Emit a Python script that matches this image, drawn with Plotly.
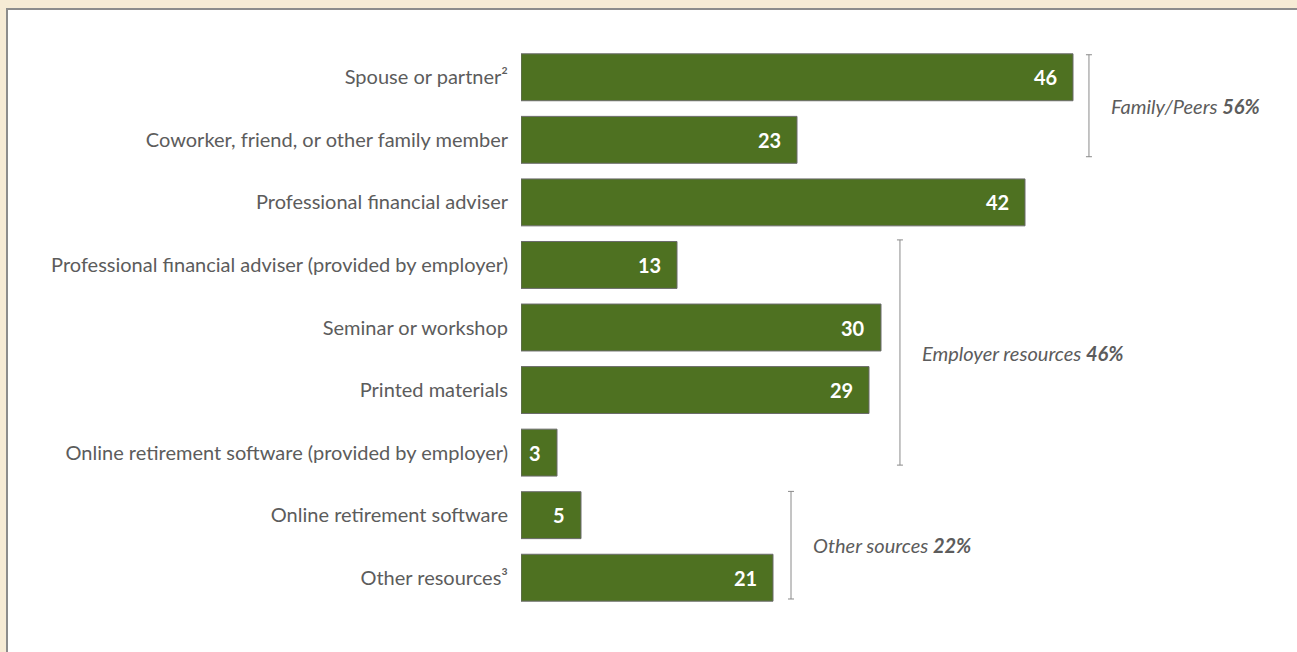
import plotly.graph_objects as go

# Sources consulted for retirement decisions (percent of respondents)
categories = [
    "Spouse or partner²",
    "Coworker, friend, or other family member",
    "Professional financial adviser",
    "Professional financial adviser (provided by employer)",
    "Seminar or workshop",
    "Printed materials",
    "Online retirement software (provided by employer)",
    "Online retirement software",
    "Other resources³",
]
values = [46, 23, 42, 13, 30, 29, 3, 5, 21]

# Group brackets: label, share, first/last row spanned, x position
group_names = ["Family/Peers", "Employer resources", "Other sources"]
group_shares = [56, 46, 22]
group_rows = [(-0.36, 1.27), (2.6, 6.2), (6.62, 8.34)]
group_x = [47.33, 31.58, 22.5]

BAR = "#4e7121"
TEXT = "#5c5c5c"
LINE = "#8a8a8a"
FONT = "Lato"

fig = go.Figure()
fig.add_trace(go.Bar(
    x=values, y=categories, orientation="h",
    marker=dict(color=BAR, line=dict(color="#6b6b6b", width=1)),
    hoverinfo="skip", showlegend=False,
))

annotations = []
for cat, v in zip(categories, values):
    annotations.append(dict(
        x=v, y=cat, xref="x", yref="y", text=f"<b>{v}</b>",
        showarrow=False, xanchor="right", xshift=-14,
        font=dict(family=FONT, size=20, color="white"),
    ))

shapes = [
    # white panel on the beige page
    dict(type="rect", xref="paper", yref="paper",
         x0=(7 - 521) / 720, x1=(1320 - 521) / 720,
         y0=-0.2, y1=1 + (46 - 9) / 563.3,
         fillcolor="white", line=dict(color="#8c8c8c", width=2), layer="below"),
]

for name, share, (r0, r1), gx in zip(group_names, group_shares, group_rows, group_x):
    shapes.append(dict(type="line", xref="x", yref="y", x0=gx, x1=gx, y0=r0, y1=r1,
                       line=dict(color=LINE, width=1)))
    for r in (r0, r1):
        shapes.append(dict(type="line", xref="x", yref="y", x0=gx - 0.25, x1=gx + 0.25,
                           y0=r, y1=r, line=dict(color=LINE, width=1)))
    annotations.append(dict(
        x=gx, y=(r0 + r1) / 2, xref="x", yref="y", xanchor="left", xshift=20,
        text=f"<i>{name} <b>{share}%</b></i>", showarrow=False,
        font=dict(family=FONT, size=20, color=TEXT),
    ))

fig.update_layout(
    width=1297, height=652,
    margin=dict(l=521, r=1297 - 521 - 720, t=46, b=652 - 609),
    paper_bgcolor="#f6ebd5", plot_bgcolor="rgba(0,0,0,0)",
    bargap=0.25,
    xaxis=dict(range=[0, 60], visible=False, fixedrange=True),
    yaxis=dict(range=[8.5, -0.5], showgrid=False, zeroline=False, showline=False,
               ticks="", ticklabelstandoff=12,
               tickfont=dict(family=FONT, size=20, color=TEXT)),
    shapes=shapes, annotations=annotations,
)

fig.write_html("out.html")
